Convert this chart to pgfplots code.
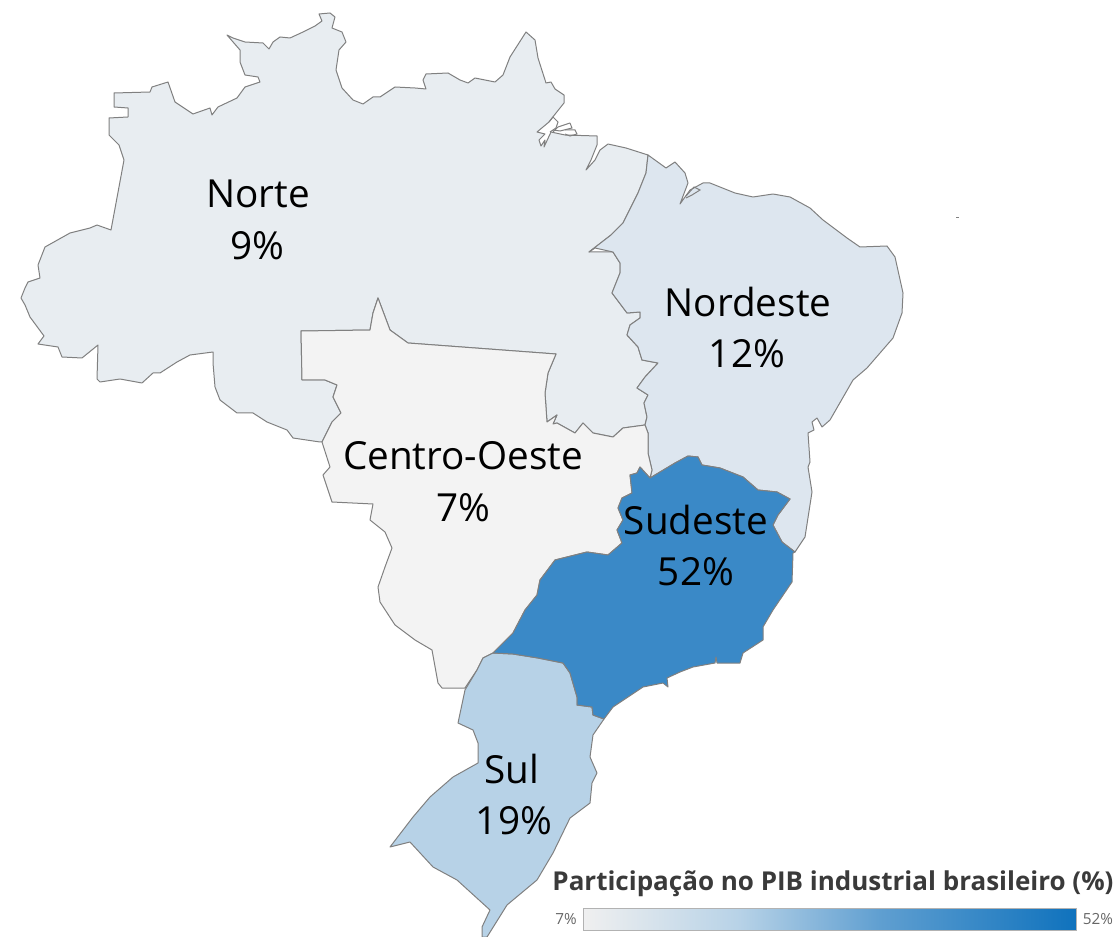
\documentclass[border=0pt]{standalone}
\usepackage{pgfplots}
\pgfplotsset{compat=1.18}
\usepackage{fontspec}
\setmainfont{Open Sans}

\definecolor{cNorte}{HTML}{E8EDF1}
\definecolor{cNordeste}{HTML}{DDE6EF}
\definecolor{cCentro}{HTML}{F3F3F3}
\definecolor{cSudeste}{HTML}{3A89C7}
\definecolor{cSul}{HTML}{B7D2E7}
\definecolor{edge}{HTML}{808080}
\definecolor{legtxt}{HTML}{3A3A3A}

\tikzset{
    region/.style={draw=edge, line width=0.75pt, line join=round},
    channel/.style={draw=edge, line width=0.75pt},
    reglabel/.style={font=\fontsize{29}{32}\selectfont, text=black},
}

\begin{document}
\begin{tikzpicture}
\begin{axis}[
    name=map,
    scale only axis,
    width=840pt,
    height=702.75pt,
    xmin=0, xmax=1120,
    ymin=0, ymax=937,
    y dir=reverse,
    hide axis,
    clip=true,
]

% Norte
\addplot[region, fill=cNorte] coordinates {
(227,35) (233,38) (245,42) (263,43) (269,49) (273,42) (280,37) (290,38) (303,32) (315,26)
(322,21) (319,14) (330,13) (335,17) (332,28) (342,32) (346,42) (339,50) (336,70) (342,88)
(353,100) (363,104) (373,97) (380,97) (395,87) (415,88) (426,89) (423,80) (426,74) (448,73)
(460,80) (468,83) (475,78) (495,82) (503,75) (510,57) (526,32) (535,40) (538,58) (546,83)
(551,82) (555,89) (564,95) (564,103) (556,113) (549,122) (537,132) (545,134) (539,140) (541,146)
(545,140) (544,147) (551,132) (565,135) (597,136) (597,145) (591,160) (586,170) (595,160) (600,150) (608,144) (626,148)
(648,155) (646,173) (638,193) (623,223) (611,235) (589,252) (613,252) (620,263) (620,273) (612,293)
(627,313) (640,312) (640,318) (630,325) (627,335) (638,347) (642,360) (658,363) (645,377) (637,388)
(648,395) (644,403) (647,417) (645,425) (623,428) (613,437) (593,433) (583,423) (575,433) (557,423)
(553,424) (557,415) (547,422) (545,393) (548,373) (556,354) (408,343) (390,330) (378,298) (373,313)
(370,330) (301,331) (302,380) (325,380) (337,385) (333,397) (341,413) (332,422) (322,442) (320,442)
(293,438) (287,430) (267,422) (253,413) (237,413) (220,400) (215,387) (213,363) (213,352) (190,355)
(177,362) (160,373) (153,373) (142,383) (120,379) (100,382) (97,379) (98,345) (82,358) (62,357)
(58,347) (38,344) (44,336) (30,317) (25,305) (21,298) (25,288) (28,282) (40,278) (38,265)
(45,247) (70,233) (90,228) (97,225) (111,230) (124,160) (119,145) (109,135) (109,118) (128,117)
(128,108) (114,107) (114,93) (150,92) (152,87) (168,82) (175,102) (193,114) (210,108) (212,115)
(218,107) (237,98) (245,87) (260,82) (258,77) (245,75) (240,62) (240,50)
} -- cycle;

% channels of the Amazon mouth
\addplot[channel] coordinates {(549,122) (553,117) (558,122) (556,128) (550,132)};
\addplot[channel] coordinates {(570,123) (572,128) (560,131) (553,130)};
\addplot[channel] coordinates {(565,130) (575,130) (577,134) (570,136) (565,134)};
\addplot[channel] coordinates {(570,123) (558,127) (553,132)};

% Nordeste
\addplot[region, fill=cNordeste] coordinates {
(648,155) (666,168) (675,162) (685,173) (688,183) (680,204) (690,190) (703,183) (710,183) (735,193)
(753,197) (773,194) (790,197) (810,208) (823,220) (847,238) (860,247) (887,246) (895,257) (903,293)
(902,313) (893,338) (867,368) (853,380) (830,420) (822,427) (817,418) (812,422) (814,430) (808,433)
(810,462) (808,467) (812,492) (805,537) (795,552) (782,542) (773,525) (778,515) (790,499) (777,492)
(758,490) (743,477) (720,468) (702,465) (698,457) (688,456) (675,463) (650,478) (652,470) (648,453)
(648,433) (645,425) (647,417) (644,403) (648,395) (637,388) (645,377) (658,363) (642,360) (638,347)
(627,335) (630,325) (640,318) (640,312) (627,313) (612,293) (620,273) (620,263) (613,252) (595,248)
(589,252) (611,235) (623,223) (638,193) (646,173)
} -- cycle;

% islets of the Maranhão bay
\addplot[channel] coordinates {(686,196) (694,187) (700,190) (692,195) (686,198)};

% Centro-Oeste
\addplot[region, fill=cCentro] coordinates {
(645,425) (623,428) (613,437) (593,433) (583,423) (575,433) (557,423) (553,424) (557,415) (547,422)
(545,393) (548,373) (556,354) (408,343) (390,330) (378,298) (373,313) (370,330) (301,331) (302,380)
(325,380) (337,385) (333,397) (341,413) (332,422) (322,442) (330,467) (323,475) (332,502) (373,504)
(370,520) (385,532) (392,548) (385,567) (378,587) (380,602) (395,625) (415,640) (432,650) (438,683)
(442,688) (465,688) (477,670) (483,658) (493,653) (513,633) (525,610) (537,595) (540,580) (555,560)
(587,552) (608,555) (622,543) (617,530) (623,520) (618,508) (622,498) (632,493) (630,475) (637,473)
(640,467) (650,478) (652,470) (648,453) (648,433)
} -- cycle;

% Sul
\addplot[region, fill=cSul] coordinates {
(493,653) (483,658) (477,670) (465,690) (458,723) (473,730) (478,743) (478,763) (453,777) (430,797)
(413,817) (390,847) (410,842) (433,867) (457,880) (490,910) (482,927) (482,937) (487,937) (507,905)
(537,880) (553,853) (570,818) (590,803) (592,783) (597,773) (590,757) (593,735) (604,719) (593,715)
(592,707) (577,705) (577,697) (570,673) (563,663) (538,658) (513,654)
} -- cycle;

% Sudeste
\addplot[region, fill=cSudeste] coordinates {
(795,552) (782,542) (773,525) (778,515) (790,499) (777,492) (758,490) (743,477) (720,468) (702,465)
(698,457) (688,456) (675,463) (650,478) (640,467) (637,473) (630,475) (632,493) (622,498) (618,508)
(623,520) (617,530) (622,543) (608,555) (587,552) (555,560) (540,580) (537,595) (525,610) (513,633)
(493,653) (513,654) (538,658) (563,663) (570,673) (577,697) (577,705) (592,707) (593,715) (604,719)
(613,707) (643,687) (663,683) (668,687) (667,678) (680,672) (693,667) (715,663) (716,657) (717,663)
(740,663) (743,653) (763,640) (763,627) (773,610) (792,582) (793,553)
} -- cycle;

% Fernando de Noronha
\addplot[channel] coordinates {(956,218) (959,218)};

% region labels
\node[reglabel] at (axis cs:258,194) {Norte};
\node[reglabel] at (axis cs:257,246) {9\%};
\node[reglabel] at (axis cs:748,302) {Nordeste};
\node[reglabel] at (axis cs:747,354) {12\%};
\node[reglabel] at (axis cs:463,456) {Centro-Oeste};
\node[reglabel] at (axis cs:463,508) {7\%};
\node[reglabel] at (axis cs:696,520) {Sudeste};
\node[reglabel] at (axis cs:696,572) {52\%};
\node[reglabel] at (axis cs:512,769) {Sul};
\node[reglabel] at (axis cs:514,821) {19\%};

% colour legend
\node[font=\bfseries\fontsize{19.5}{22}\selectfont, text=legtxt] at (axis cs:833,884) {Participação no PIB industrial brasileiro (\%)};
\shade[left color=white!94!black, right color=cSul] (axis cs:583,908) rectangle (axis cs:740,930);
\shade[left color=cSul, right color=cSudeste!70!cSul] (axis cs:739.5,908) rectangle (axis cs:880,930);
\shade[left color=cSudeste!70!cSul, right color={rgb,255:red,15;green,114;blue,189}] (axis cs:879.5,908) rectangle (axis cs:1076,930);
\draw[draw=black!30, line width=0.75pt] (axis cs:583,908) rectangle (axis cs:1076,930);
\node[font=\fontsize{11.5}{13}\selectfont, text=black!60] at (axis cs:566,919) {7\%};
\node[font=\fontsize{11.5}{13}\selectfont, text=black!60] at (axis cs:1098,919) {52\%};

\end{axis}
\useasboundingbox (map.south west) rectangle (map.north east);
\end{tikzpicture}
\end{document}
